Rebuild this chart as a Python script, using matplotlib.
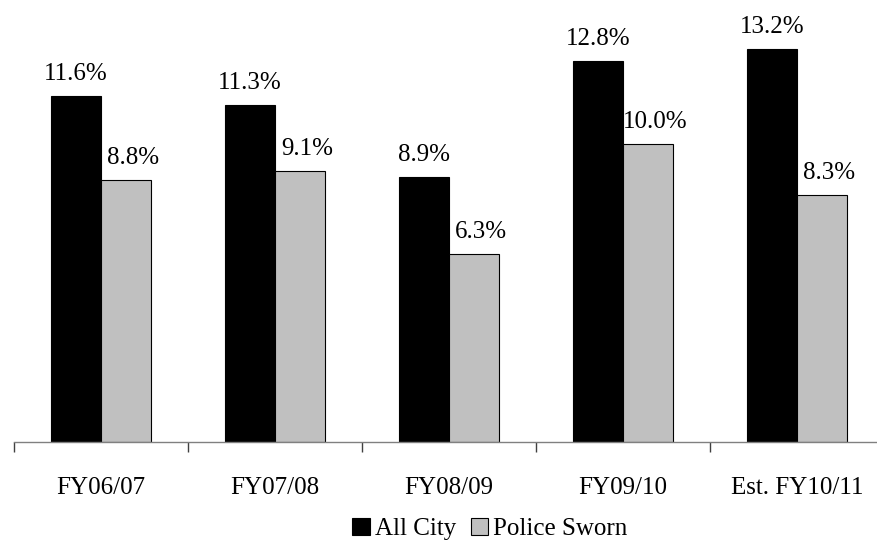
import matplotlib.pyplot as plt
import numpy as np

categories = ['FY06/07', 'FY07/08', 'FY08/09', 'FY09/10', 'Est. FY10/11']
all_city = [11.6, 11.3, 8.9, 12.8, 13.2]
police_sworn = [8.8, 9.1, 6.3, 10.0, 8.3]

plt.rcParams['font.family'] = ['Liberation Serif', 'DejaVu Serif']

W, H = 878, 554
fig = plt.figure(figsize=(W / 100, H / 100), dpi=100)
# axes spans from x=14 to x=884 px (last category is cut by the image edge)
ax = fig.add_axes([14 / W, (H - 442) / H, 870 / W, 417 / H])

x = np.arange(len(categories))
bw = 0.287
ax.bar(x - bw / 2, all_city, bw, color='black', edgecolor='black', linewidth=0.8, label='All City')
ax.bar(x + bw / 2, police_sworn, bw, color='#c0c0c0', edgecolor='black', linewidth=0.8, label='Police Sworn')

for i in range(len(categories)):
    ax.annotate(f'{all_city[i]:.1f}%', (x[i] - bw / 2, all_city[i]), xytext=(0, 8),
                textcoords='offset points', ha='center', va='bottom', fontsize=18)
    ax.annotate(f'{police_sworn[i]:.1f}%', (x[i] + bw / 2, police_sworn[i]), xytext=(5, 8),
                textcoords='offset points', ha='center', va='bottom', fontsize=18)

ax.set_xlim(-0.5, len(categories) - 0.5)
ax.set_ylim(0, 14)

for s in ['top', 'right', 'left']:
    ax.spines[s].set_visible(False)
ax.spines['bottom'].set_color('#808080')
ax.spines['bottom'].set_linewidth(1)
ax.set_yticks([])

ax.set_xticks(x)
ax.set_xticklabels(categories, fontsize=18)
ax.tick_params(axis='x', which='major', length=0, pad=25)
ax.set_xticks(np.arange(len(categories) + 1) - 0.5, minor=True)
ax.tick_params(axis='x', which='minor', length=7, direction='out', color='#404040', width=1)

fig.legend(loc='center', bbox_to_anchor=(0.558, 1 - 529 / H), ncol=2, frameon=False,
           fontsize=18, handlelength=0.7, handleheight=0.7, handletextpad=0.2,
           columnspacing=0.6)

fig.savefig('out.png', dpi=100)
